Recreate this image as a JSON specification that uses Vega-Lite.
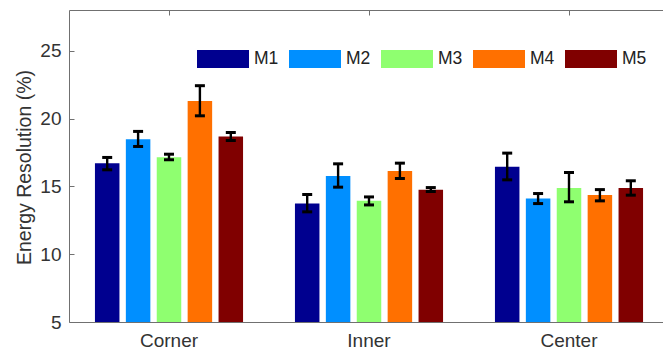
{
  "$schema": "https://vega.github.io/schema/vega-lite/v6.json",
  "width": 600,
  "height": 312,
  "autosize": {"type": "none"},
  "padding": {"left": 69, "top": 10, "right": 0, "bottom": 36},
  "background": "white",
  "config": {
    "font": "Liberation Sans",
    "view": {"stroke": "#707070", "strokeWidth": 1},
    "axis": {"grid": false, "labelColor": "#333333", "titleColor": "#333333", "domainColor": "#707070", "tickColor": "#707070", "labelFont": "Liberation Sans", "titleFont": "Liberation Sans"}
  },
  "data": {
    "values": [
      {"group": "Corner", "model": "M1", "value": 16.70, "lo": 16.22, "hi": 17.13},
      {"group": "Corner", "model": "M2", "value": 18.48, "lo": 17.94, "hi": 19.05},
      {"group": "Corner", "model": "M3", "value": 17.15, "lo": 16.96, "hi": 17.37},
      {"group": "Corner", "model": "M4", "value": 21.30, "lo": 20.20, "hi": 22.42},
      {"group": "Corner", "model": "M5", "value": 18.68, "lo": 18.38, "hi": 18.97},
      {"group": "Inner", "model": "M1", "value": 13.73, "lo": 13.12, "hi": 14.40},
      {"group": "Inner", "model": "M2", "value": 15.77, "lo": 14.94, "hi": 16.66},
      {"group": "Inner", "model": "M3", "value": 13.93, "lo": 13.63, "hi": 14.22},
      {"group": "Inner", "model": "M4", "value": 16.14, "lo": 15.58, "hi": 16.71},
      {"group": "Inner", "model": "M5", "value": 14.74, "lo": 14.62, "hi": 14.91},
      {"group": "Center", "model": "M1", "value": 16.44, "lo": 15.48, "hi": 17.45},
      {"group": "Center", "model": "M2", "value": 14.10, "lo": 13.73, "hi": 14.47},
      {"group": "Center", "model": "M3", "value": 14.87, "lo": 13.86, "hi": 16.02},
      {"group": "Center", "model": "M4", "value": 14.37, "lo": 13.93, "hi": 14.76},
      {"group": "Center", "model": "M5", "value": 14.87, "lo": 14.35, "hi": 15.41}
    ]
  },
  "encoding": {
    "x": {
      "field": "group", "type": "nominal", "sort": ["Corner", "Inner", "Center"],
      "scale": {"paddingInner": 0.2275, "paddingOuter": 0.11375},
      "axis": {"title": null, "labelAngle": 0, "labelFontSize": 19, "tickSize": -5, "labelPadding": 14, "domain": false}
    },
    "xOffset": {
      "field": "model", "type": "nominal", "sort": ["M1", "M2", "M3", "M4", "M5"],
      "scale": {"paddingInner": 0.207, "paddingOuter": 0.1035}
    }
  },
  "resolve": {"axis": {"x": "independent"}},
  "layer": [
    {
      "mark": {"type": "bar"},
      "encoding": {
        "y": {
          "field": "value", "type": "quantitative",
          "scale": {"domain": [5, 28], "zero": false, "nice": false},
          "axis": {"title": "Energy Resolution (%)", "values": [5, 10, 15, 20, 25], "labelFontSize": 19, "titleFontSize": 19.5, "titleFontWeight": "normal", "tickSize": -5, "labelPadding": 13, "titleX": -35, "titleY": 157, "domain": false}
        },
        "y2": {"datum": 5},
        "color": {
          "field": "model", "type": "nominal",
          "scale": {"domain": ["M1", "M2", "M3", "M4", "M5"], "range": ["#00008F", "#008FFF", "#8FFF70", "#FF7000", "#800000"]},
          "legend": {
            "orient": "none", "legendX": 128, "legendY": 23, "direction": "horizontal", "title": null,
            "symbolType": "M-1,-0.346L1,-0.346L1,0.346L-1,0.346Z", "symbolSize": 2704,
            "symbolStrokeWidth": 0, "symbolOpacity": 1, "labelFontSize": 17.5, "labelColor": "#222222",
            "labelOffset": 5, "columnPadding": 10, "padding": 0
          }
        }
      }
    },
    {
      "mark": {"type": "rule", "color": "black", "strokeWidth": 2.4},
      "encoding": {
        "x": {
          "field": "group", "type": "nominal", "sort": ["Corner", "Inner", "Center"],
          "axis": {"orient": "top", "title": null, "labels": false, "tickSize": -5, "domain": false}
        },
        "y": {"field": "lo", "type": "quantitative", "title": "Energy Resolution (%)"},
        "y2": {"field": "hi"}
      }
    },
    {
      "mark": {"type": "tick", "color": "black", "thickness": 3, "size": 10, "opacity": 1},
      "encoding": {
        "x": {"field": "group", "type": "nominal", "sort": ["Corner", "Inner", "Center"], "axis": null},
        "y": {"field": "lo", "type": "quantitative", "title": "Energy Resolution (%)"}
      }
    },
    {
      "mark": {"type": "tick", "color": "black", "thickness": 3, "size": 10, "opacity": 1},
      "encoding": {
        "x": {"field": "group", "type": "nominal", "sort": ["Corner", "Inner", "Center"], "axis": null},
        "y": {"field": "hi", "type": "quantitative", "title": "Energy Resolution (%)"}
      }
    }
  ]
}
